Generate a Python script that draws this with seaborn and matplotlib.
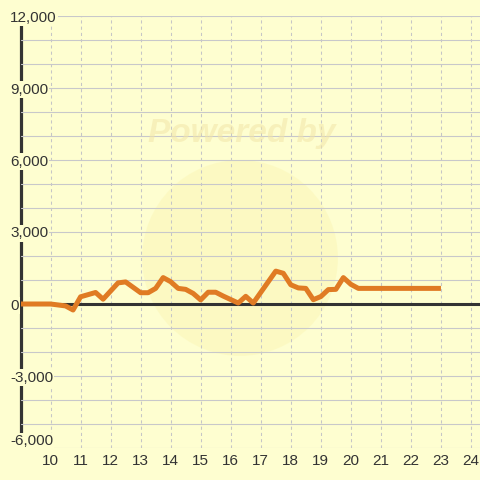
import matplotlib
matplotlib.use("Agg")
import matplotlib.pyplot as plt
import seaborn as sns
import pandas as pd
from matplotlib.patches import Circle
from matplotlib.ticker import MultipleLocator

# data
hours = [9.0, 10.0, 10.5, 10.75, 11.0, 11.5, 11.75, 12.25, 12.5, 13.0,
         13.25, 13.5, 13.75, 14.0, 14.25, 14.5, 14.75, 15.0, 15.25, 15.5,
         15.75, 16.25, 16.5, 16.75, 17.5, 17.75, 18.0, 18.25, 18.5, 18.75,
         19.0, 19.25, 19.5, 19.75, 20.0, 20.25, 23.0]
values = [0, 0, -80, -250, 300, 480, 200, 880, 920, 470,
          470, 650, 1100, 930, 650, 610, 440, 170, 490, 490,
          330, 40, 320, 40, 1370, 1280, 800, 670, 650, 180,
          310, 600, 610, 1100, 820, 650, 650]
x_ticks = list(range(10, 25))
y_ticks = [-6000, -3000, 0, 3000, 6000, 9000, 12000]

BG = "#FEFED0"
INK = "#333333"
ORANGE = "#E07B24"

sns.set_theme(style="white", rc={"axes.facecolor": BG, "figure.facecolor": BG})
plt.rcParams["font.family"] = ["Liberation Sans", "DejaVu Sans"]
plt.rcParams["axes.unicode_minus"] = False

df = pd.DataFrame({"hour": hours, "value": values})

fig, ax = plt.subplots(figsize=(4.8, 4.8), dpi=100)
fig.subplots_adjust(left=20.5 / 480, right=1.0, bottom=32 / 480, top=464 / 480)

# faint watermark
ax.add_patch(Circle((0.5, 0.4625), 0.204, transform=fig.transFigure,
                    facecolor="#F8EE9C", edgecolor="none", alpha=0.25,
                    zorder=0.1, clip_on=False))
fig.text(0.504, 0.722, "Powered by", ha="center", va="center", fontsize=24,
         fontweight="bold", fontstyle="italic", color="#F2E6A8", alpha=0.55)

ax.axhline(0, color=INK, linewidth=2.2, zorder=2)
sns.lineplot(data=df, x="hour", y="value", ax=ax, color=ORANGE,
             linewidth=3.6, zorder=3, solid_capstyle="butt",
             solid_joinstyle="round")

ax.set_xlim(9, 24.3)
ax.set_ylim(-6000, 12000)

ax.set_xticks(x_ticks)
ax.yaxis.set_minor_locator(MultipleLocator(1000))
ax.set_yticks(y_ticks, labels=[f"{v:,}" for v in y_ticks], ha="left",
              bbox=dict(facecolor=BG, edgecolor="none", pad=0.8))
ax.get_yticklabels()[0].set_va("bottom")

ax.grid(axis="y", which="both", color="#C8C8CA", linewidth=0.8)
ax.grid(axis="x", which="major", color="#C6C6C6", linewidth=0.75,
        linestyle=(0, (3, 3)))
ax.tick_params(axis="y", which="both", length=0, pad=7.5, labelsize=11,
               labelcolor=INK)
ax.tick_params(axis="x", length=0, pad=4, labelsize=11, labelcolor=INK)

for side in ["top", "right", "bottom"]:
    ax.spines[side].set_visible(False)
ax.spines["left"].set_color(INK)
ax.spines["left"].set_linewidth(2.3)
ax.spines["left"].set_zorder(0.3)
ax.spines["left"].set_bounds(-5800, 12000)

ax.set_xlabel("")
ax.set_ylabel("")

fig.savefig("out.png", dpi=100, facecolor=BG)
